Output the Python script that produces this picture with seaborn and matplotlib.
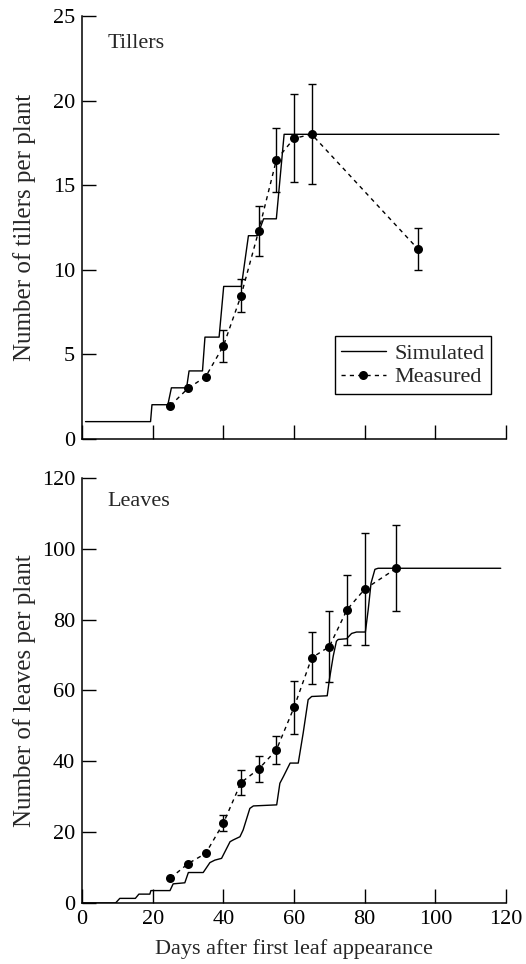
import numpy as np
import pandas as pd
import matplotlib
matplotlib.use("Agg")
import matplotlib.pyplot as plt
import seaborn as sns
from matplotlib.lines import Line2D

# ---------------- data ----------------
# Tillers: simulated (step-like) curve
sim_till_day = [1, 19.4, 19.8, 24.3, 25.3, 29.6, 30.3, 34.1, 34.8, 38.8, 40.1, 45.1,
                47.1, 49.6, 51.4, 55.0, 57.2, 118]
sim_till_val = [1, 1, 2, 2, 3, 3, 4, 4, 6, 6, 9, 9, 12, 12, 13, 13, 18, 18]

# Tillers: measured
meas_till_day = [25, 30, 35, 40, 45, 50, 55, 60, 65, 95]
meas_till_val = [1.95, 2.97, 3.66, 5.47, 8.45, 12.28, 16.48, 17.76, 18.0, 11.23]
meas_till_err = [0, 0, 0, 0.95, 0.97, 1.5, 1.9, 2.6, 2.95, 1.25]

# Leaves: simulated
sim_leaf_day = [0, 9.5, 10.7, 15.1, 16.1, 19.2, 19.5, 24.9, 25.8, 29.1, 30.1, 34.3,
                36.2, 37.6, 39.5, 41.9, 42.8, 44.7, 45.6, 47.5, 48.5, 55.1, 56.0,
                57.0, 58.9, 61.2, 62.6, 64.0, 65.0, 69.4, 70.0, 71.1, 72.0, 72.5,
                74.9, 76.3, 77.7, 80.2, 81.0, 81.8, 82.9, 83.8, 118.5]
sim_leaf_val = [0, 0, 1.3, 1.3, 2.5, 2.5, 3.5, 3.5, 5.4, 5.7, 8.6, 8.6,
                11.4, 12.1, 12.6, 17.3, 17.8, 18.7, 20.6, 26.7, 27.4, 27.7, 33.8,
                35.7, 39.5, 39.5, 48.0, 57.4, 58.3, 58.5, 63.0, 69.7, 73.9, 74.4,
                74.6, 76.1, 76.5, 76.5, 82.8, 90.3, 94.2, 94.5, 94.5]

# Leaves: measured
meas_leaf_day = [25, 30, 35, 40, 45, 50, 55, 60, 65, 70, 75, 80, 89]
meas_leaf_val = [7.0, 11.1, 14.0, 22.5, 34.0, 37.8, 43.2, 55.2, 69.2, 72.4, 82.8, 88.6, 94.5]
meas_leaf_err = [0, 0, 0, 2.3, 3.6, 3.7, 4.0, 7.4, 7.4, 10.1, 9.9, 15.9, 12.1]

x_ticks = [0, 20, 40, 60, 80, 100, 120]
till_ticks = [0, 5, 10, 15, 20, 25]
leaf_ticks = [0, 20, 40, 60, 80, 100, 120]

# ---------------- style ----------------
sns.set_theme(style="ticks")
plt.rcParams["font.family"] = ["Liberation Serif", "DejaVu Serif"]

fig = plt.figure(figsize=(5.26, 9.64), dpi=100)
ax1 = fig.add_axes([0.1559, 0.5451, 0.8061, 0.4383])
ax2 = fig.add_axes([0.1559, 0.0633, 0.8061, 0.4409])

LW = 1.0
DASH = (3, 3)


def draw(ax, sd, sv, md, mv, me):
    sim_df = pd.DataFrame({"day": sd, "val": sv})
    meas_df = pd.DataFrame({"day": md, "val": mv, "err": me})
    sns.lineplot(data=sim_df, x="day", y="val", ax=ax, color="black", lw=LW,
                 estimator=None, sort=False)
    sns.lineplot(data=meas_df, x="day", y="val", ax=ax, color="black", lw=LW,
                 estimator=None, sort=False, dashes=False, linestyle=(0, DASH),
                 marker="o", markersize=6.5, markeredgewidth=0,
                 markerfacecolor="black")
    e = meas_df[meas_df["err"] > 0]
    ax.errorbar(e["day"], e["val"], yerr=e["err"], fmt="none", ecolor="black",
                elinewidth=1.0, capsize=3, capthick=1.0)
    for s in ["top", "right"]:
        ax.spines[s].set_visible(False)
    for s in ["left", "bottom"]:
        ax.spines[s].set_color("black")
        ax.spines[s].set_linewidth(1.1)
    ax.set_xlim(0, 120)
    ax.set_xticks(x_ticks)
    ax.tick_params(direction="in", length=10, width=1.0, colors="black",
                   labelsize=16, pad=5)
    ax.set_xlabel("")
    ax.set_ylabel("")


draw(ax1, sim_till_day, sim_till_val, meas_till_day, meas_till_val, meas_till_err)
draw(ax2, sim_leaf_day, sim_leaf_val, meas_leaf_day, meas_leaf_val, meas_leaf_err)

ax1.set_ylim(0, 25)
ax1.set_yticks(till_ticks)
ax1.set_xticklabels([])
ax2.set_ylim(0, 120)
ax2.set_yticks(leaf_ticks)

ax1.set_ylabel("Number of tillers per plant", fontsize=18, labelpad=12)
ax2.set_ylabel("Number of leaves per plant", fontsize=18, labelpad=4)
ax2.set_xlabel("Days after first leaf appearance", fontsize=16, labelpad=7)

ax1.text(0.06, 0.935, "Tillers", transform=ax1.transAxes, fontsize=16,
         va="center", ha="left")
ax2.text(0.06, 0.945, "Leaves", transform=ax2.transAxes, fontsize=16,
         va="center", ha="left")

handles = [
    Line2D([], [], color="black", lw=LW),
    Line2D([], [], color="black", lw=LW, linestyle=(0, DASH), marker="o",
           markersize=6.5, markeredgewidth=0),
]
leg = ax1.legend(handles, ["Simulated", "Measured"], loc="lower right",
                 bbox_to_anchor=(0.965, 0.105), fontsize=16, frameon=True,
                 fancybox=False, edgecolor="black", framealpha=1,
                 borderpad=0.3, labelspacing=0.15, handlelength=2.0,
                 handletextpad=0.4, borderaxespad=0)
leg.get_frame().set_linewidth(1.0)

fig.savefig("out.png", dpi=100)
